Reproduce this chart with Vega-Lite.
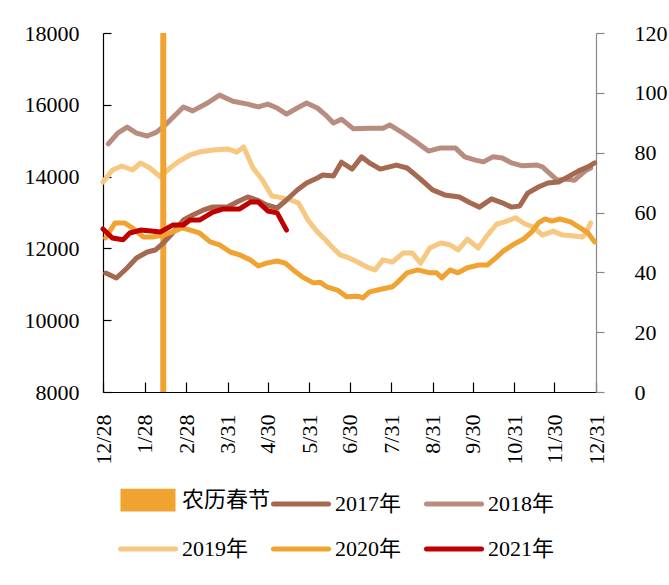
{
  "$schema": "https://vega.github.io/schema/vega-lite/v6.json",
  "width": 493,
  "height": 359,
  "autosize": {"type": "none"},
  "padding": {"left": 103, "top": 33, "right": 73, "bottom": 193},
  "background": "white",
  "config": {
    "view": {"stroke": null},
    "axis": {"labelFont": "Liberation Serif", "labelFontSize": 22, "labelColor": "#000", "grid": false, "title": null}
  },
  "datasets": {
    "lines": [
      {"s":"2017年","d":2,"v":11315},{"s":"2017年","d":10,"v":11176},{"s":"2017年","d":18,"v":11454},{"s":"2017年","d":25,"v":11733},{"s":"2017年","d":33,"v":11900},{"s":"2017年","d":39,"v":11955},{"s":"2017年","d":45,"v":12150},{"s":"2017年","d":52,"v":12429},{"s":"2017年","d":60,"v":12791},{"s":"2017年","d":67,"v":12930},{"s":"2017年","d":75,"v":13070},{"s":"2017年","d":82,"v":13153},{"s":"2017年","d":93,"v":13153},{"s":"2017年","d":100,"v":13293},{"s":"2017年","d":108,"v":13432},{"s":"2017年","d":115,"v":13348},{"s":"2017年","d":122,"v":13209},{"s":"2017年","d":130,"v":13125},{"s":"2017年","d":137,"v":13348},{"s":"2017年","d":145,"v":13627},{"s":"2017年","d":152,"v":13822},{"s":"2017年","d":160,"v":13961},{"s":"2017年","d":164,"v":14045},{"s":"2017年","d":172,"v":14017},{"s":"2017年","d":178,"v":14400},{"s":"2017年","d":186,"v":14210},{"s":"2017年","d":193,"v":14550},{"s":"2017年","d":199,"v":14380},{"s":"2017年","d":207,"v":14210},{"s":"2017年","d":219,"v":14320},{"s":"2017年","d":227,"v":14240},{"s":"2017年","d":237,"v":13930},{"s":"2017年","d":246,"v":13630},{"s":"2017年","d":255,"v":13490},{"s":"2017年","d":266,"v":13430},{"s":"2017年","d":274,"v":13270},{"s":"2017年","d":281,"v":13150},{"s":"2017年","d":290,"v":13380},{"s":"2017年","d":298,"v":13270},{"s":"2017年","d":305,"v":13150},{"s":"2017年","d":311,"v":13180},{"s":"2017年","d":317,"v":13540},{"s":"2017年","d":325,"v":13710},{"s":"2017年","d":332,"v":13820},{"s":"2017年","d":340,"v":13850},{"s":"2017年","d":347,"v":13990},{"s":"2017年","d":355,"v":14160},{"s":"2017年","d":362,"v":14270},{"s":"2017年","d":367,"v":14380},
      {"s":"2018年","d":4,"v":14910},{"s":"2018年","d":11,"v":15210},{"s":"2018年","d":18,"v":15380},{"s":"2018年","d":25,"v":15210},{"s":"2018年","d":33,"v":15130},{"s":"2018年","d":40,"v":15240},{"s":"2018年","d":48,"v":15490},{"s":"2018年","d":60,"v":15940},{"s":"2018年","d":67,"v":15830},{"s":"2018年","d":78,"v":16050},{"s":"2018年","d":87,"v":16270},{"s":"2018年","d":97,"v":16100},{"s":"2018年","d":108,"v":16020},{"s":"2018年","d":116,"v":15940},{"s":"2018年","d":123,"v":16020},{"s":"2018年","d":130,"v":15910},{"s":"2018年","d":137,"v":15740},{"s":"2018年","d":145,"v":15910},{"s":"2018年","d":152,"v":16050},{"s":"2018年","d":160,"v":15910},{"s":"2018年","d":166,"v":15720},{"s":"2018年","d":172,"v":15490},{"s":"2018年","d":178,"v":15600},{"s":"2018年","d":187,"v":15330},{"s":"2018年","d":199,"v":15350},{"s":"2018年","d":209,"v":15350},{"s":"2018年","d":214,"v":15440},{"s":"2018年","d":224,"v":15210},{"s":"2018年","d":234,"v":14960},{"s":"2018年","d":243,"v":14710},{"s":"2018年","d":252,"v":14800},{"s":"2018年","d":263,"v":14800},{"s":"2018年","d":270,"v":14550},{"s":"2018年","d":278,"v":14460},{"s":"2018年","d":284,"v":14410},{"s":"2018年","d":291,"v":14550},{"s":"2018年","d":298,"v":14520},{"s":"2018年","d":305,"v":14380},{"s":"2018年","d":313,"v":14300},{"s":"2018年","d":324,"v":14320},{"s":"2018年","d":328,"v":14270},{"s":"2018年","d":339,"v":13900},{"s":"2018年","d":345,"v":13930},{"s":"2018年","d":352,"v":13900},{"s":"2018年","d":360,"v":14160},{"s":"2018年","d":364,"v":14240},
      {"s":"2019年","d":0,"v":13850},{"s":"2019年","d":7,"v":14184},{"s":"2019年","d":14,"v":14295},{"s":"2019年","d":22,"v":14184},{"s":"2019年","d":28,"v":14379},{"s":"2019年","d":35,"v":14240},{"s":"2019年","d":43,"v":13989},{"s":"2019年","d":50,"v":14240},{"s":"2019年","d":57,"v":14435},{"s":"2019年","d":65,"v":14602},{"s":"2019年","d":72,"v":14685},{"s":"2019年","d":82,"v":14741},{"s":"2019年","d":93,"v":14769},{"s":"2019年","d":100,"v":14685},{"s":"2019年","d":105,"v":14825},{"s":"2019年","d":112,"v":14240},{"s":"2019年","d":119,"v":13905},{"s":"2019年","d":126,"v":13460},{"s":"2019年","d":131,"v":13430},{"s":"2019年","d":140,"v":13350},{"s":"2019年","d":146,"v":13260},{"s":"2019年","d":153,"v":12790},{"s":"2019年","d":160,"v":12460},{"s":"2019年","d":166,"v":12240},{"s":"2019年","d":171,"v":12040},{"s":"2019年","d":177,"v":11820},{"s":"2019年","d":182,"v":11760},{"s":"2019年","d":190,"v":11620},{"s":"2019年","d":197,"v":11480},{"s":"2019年","d":203,"v":11400},{"s":"2019年","d":209,"v":11680},{"s":"2019年","d":216,"v":11620},{"s":"2019年","d":224,"v":11870},{"s":"2019年","d":231,"v":11870},{"s":"2019年","d":237,"v":11590},{"s":"2019年","d":244,"v":12010},{"s":"2019年","d":252,"v":12150},{"s":"2019年","d":259,"v":12100},{"s":"2019年","d":265,"v":11955},{"s":"2019年","d":272,"v":12260},{"s":"2019年","d":280,"v":12010},{"s":"2019年","d":287,"v":12370},{"s":"2019年","d":294,"v":12680},{"s":"2019年","d":300,"v":12740},{"s":"2019年","d":308,"v":12850},{"s":"2019年","d":315,"v":12680},{"s":"2019年","d":321,"v":12600},{"s":"2019年","d":328,"v":12370},{"s":"2019年","d":336,"v":12480},{"s":"2019年","d":343,"v":12370},{"s":"2019年","d":350,"v":12350},{"s":"2019年","d":358,"v":12320},{"s":"2019年","d":361,"v":12460},{"s":"2019年","d":364,"v":12710},
      {"s":"2020年","d":2,"v":12290},{"s":"2020年","d":9,"v":12710},{"s":"2020年","d":16,"v":12710},{"s":"2020年","d":22,"v":12570},{"s":"2020年","d":30,"v":12320},{"s":"2020年","d":37,"v":12320},{"s":"2020年","d":45,"v":12370},{"s":"2020年","d":52,"v":12460},{"s":"2020年","d":59,"v":12570},{"s":"2020年","d":65,"v":12510},{"s":"2020年","d":72,"v":12430},{"s":"2020年","d":80,"v":12180},{"s":"2020年","d":87,"v":12100},{"s":"2020年","d":95,"v":11900},{"s":"2020年","d":102,"v":11820},{"s":"2020年","d":110,"v":11680},{"s":"2020年","d":116,"v":11510},{"s":"2020年","d":122,"v":11590},{"s":"2020年","d":130,"v":11650},{"s":"2020年","d":136,"v":11590},{"s":"2020年","d":142,"v":11400},{"s":"2020年","d":149,"v":11200},{"s":"2020年","d":157,"v":11040},{"s":"2020年","d":162,"v":11060},{"s":"2020年","d":167,"v":10930},{"s":"2020年","d":175,"v":10840},{"s":"2020年","d":182,"v":10650},{"s":"2020年","d":190,"v":10670},{"s":"2020年","d":194,"v":10620},{"s":"2020年","d":199,"v":10790},{"s":"2020年","d":205,"v":10840},{"s":"2020年","d":216,"v":10930},{"s":"2020年","d":220,"v":11060},{"s":"2020年","d":227,"v":11320},{"s":"2020年","d":235,"v":11400},{"s":"2020年","d":244,"v":11320},{"s":"2020年","d":249,"v":11320},{"s":"2020年","d":253,"v":11180},{"s":"2020年","d":259,"v":11400},{"s":"2020年","d":265,"v":11320},{"s":"2020年","d":272,"v":11460},{"s":"2020年","d":281,"v":11540},{"s":"2020年","d":287,"v":11540},{"s":"2020年","d":293,"v":11730},{"s":"2020年","d":299,"v":11930},{"s":"2020年","d":306,"v":12100},{"s":"2020年","d":314,"v":12260},{"s":"2020年","d":320,"v":12460},{"s":"2020年","d":325,"v":12710},{"s":"2020年","d":330,"v":12820},{"s":"2020年","d":335,"v":12760},{"s":"2020年","d":341,"v":12820},{"s":"2020年","d":349,"v":12740},{"s":"2020年","d":355,"v":12600},{"s":"2020年","d":362,"v":12430},{"s":"2020年","d":367,"v":12180},
      {"s":"2021年","d":0,"v":12540},{"s":"2021年","d":7,"v":12290},{"s":"2021年","d":15,"v":12240},{"s":"2021年","d":20,"v":12430},{"s":"2021年","d":28,"v":12510},{"s":"2021年","d":34,"v":12490},{"s":"2021年","d":43,"v":12460},{"s":"2021年","d":52,"v":12650},{"s":"2021年","d":60,"v":12650},{"s":"2021年","d":65,"v":12790},{"s":"2021年","d":72,"v":12790},{"s":"2021年","d":82,"v":13010},{"s":"2021年","d":90,"v":13100},{"s":"2021年","d":102,"v":13100},{"s":"2021年","d":110,"v":13290},{"s":"2021年","d":116,"v":13290},{"s":"2021年","d":123,"v":13040},{"s":"2021年","d":130,"v":12990},{"s":"2021年","d":137,"v":12510}
    ],
    "fest": [{"s": "农历春节", "d": 45, "v": 120}]
  },
  "encoding": {
    "x": {
      "field": "d", "type": "quantitative",
      "scale": {"domain": [0, 368], "nice": false, "zero": false, "padding": 0},
      "axis": {
        "values": [0, 31, 62, 93, 123, 154, 184, 215, 246, 276, 307, 337, 368],
        "labelExpr": "['12/28','1/28','2/28','3/31','4/30','5/31','6/30','7/31','8/31','9/30','10/31','11/30','12/31'][indexof([0,31,62,93,123,154,184,215,246,276,307,337,368], datum.value)]",
        "labelAngle": 270, "labelAlign": "right", "labelBaseline": "middle",
        "tickSize": -10, "tickColor": "#000", "domainColor": "#000", "domainWidth": 1.2, "tickWidth": 1.2,
        "labelPadding": 32, "labelOverlap": false, "labelFlush": false
      }
    }
  },
  "layer": [
    {
      "data": {"name": "lines"},
      "transform": [{"filter": {"field": "s", "oneOf": ["2018年", "2019年"]}}],
      "mark": {"type": "line", "strokeWidth": 5, "strokeCap": "round", "strokeJoin": "round"},
      "encoding": {
        "y": {
          "field": "v", "type": "quantitative",
          "scale": {"domain": [8000, 18000], "nice": false, "zero": false},
          "axis": {"orient": "left", "values": [8000, 10000, 12000, 14000, 16000, 18000], "format": "d", "tickSize": -8, "tickColor": "#000", "domainColor": "#000", "domainWidth": 1.2, "tickWidth": 1.2, "labelPadding": 32, "labelFlush": false}
        },
        "color": {
          "field": "s", "type": "nominal",
          "scale": {"domain": ["农历春节", "2017年", "2018年", "2019年", "2020年", "2021年"], "range": ["#F0A330", "#A56850", "#B98C80", "#F7C882", "#F0A330", "#C00000"]},
          "legend": {
            "orient": "none", "legendX": 15, "legendY": 437, "direction": "horizontal", "columns": 3, "gridAlign": "all",
            "columnPadding": -14, "rowPadding": -9, "title": null,
            "symbolType": "stroke", "symbolSize": 3025, "symbolStrokeWidth": 5,
            "labelFont": "Liberation Serif, Noto Sans CJK SC", "labelFontSize": 22, "labelColor": "#000", "labelOffset": 4, "labelLimit": 200,
            "encode": {
              "symbols": {
                "update": {
                  "shape": {"signal": "datum.value === '农历春节' ? 'M-0.91,-0.32H0.91V0.32H-0.91Z' : 'stroke'"},
                  "fill": {"signal": "datum.value === '农历春节' ? '#D6902E' : 'transparent'"},
                  "stroke": {"signal": "datum.value === '农历春节' ? '#F0A330' : scale('color', datum.value)"},
                  "strokeWidth": {"value": 5},
                  "strokeCap": {"value": "round"},
                  "opacity": {"value": 1}
                }
              }
            }
          }
        }
      }
    },
    {
      "data": {"name": "fest"},
      "mark": {"type": "bar", "width": 6},
      "encoding": {
        "y": {
          "field": "v", "type": "quantitative",
          "scale": {"domain": [0, 120], "nice": false},
          "axis": {"orient": "right", "values": [0, 20, 40, 60, 80, 100, 120], "tickSize": 8, "tickColor": "#888", "domainColor": "#888", "domainWidth": 1.2, "tickWidth": 1.2, "labelPadding": 30, "labelFlush": false}
        },
        "color": {"field": "s", "type": "nominal"}
      }
    },
    {
      "data": {"name": "lines"},
      "transform": [{"filter": {"field": "s", "oneOf": ["2017年", "2020年", "2021年"]}}],
      "mark": {"type": "line", "strokeWidth": 5, "strokeCap": "round", "strokeJoin": "round"},
      "encoding": {
        "y": {
          "field": "v", "type": "quantitative",
          "scale": {"domain": [8000, 18000], "nice": false, "zero": false},
          "axis": null
        },
        "color": {"field": "s", "type": "nominal"}
      }
    }
  ],
  "resolve": {"scale": {"y": "independent"}}
}
